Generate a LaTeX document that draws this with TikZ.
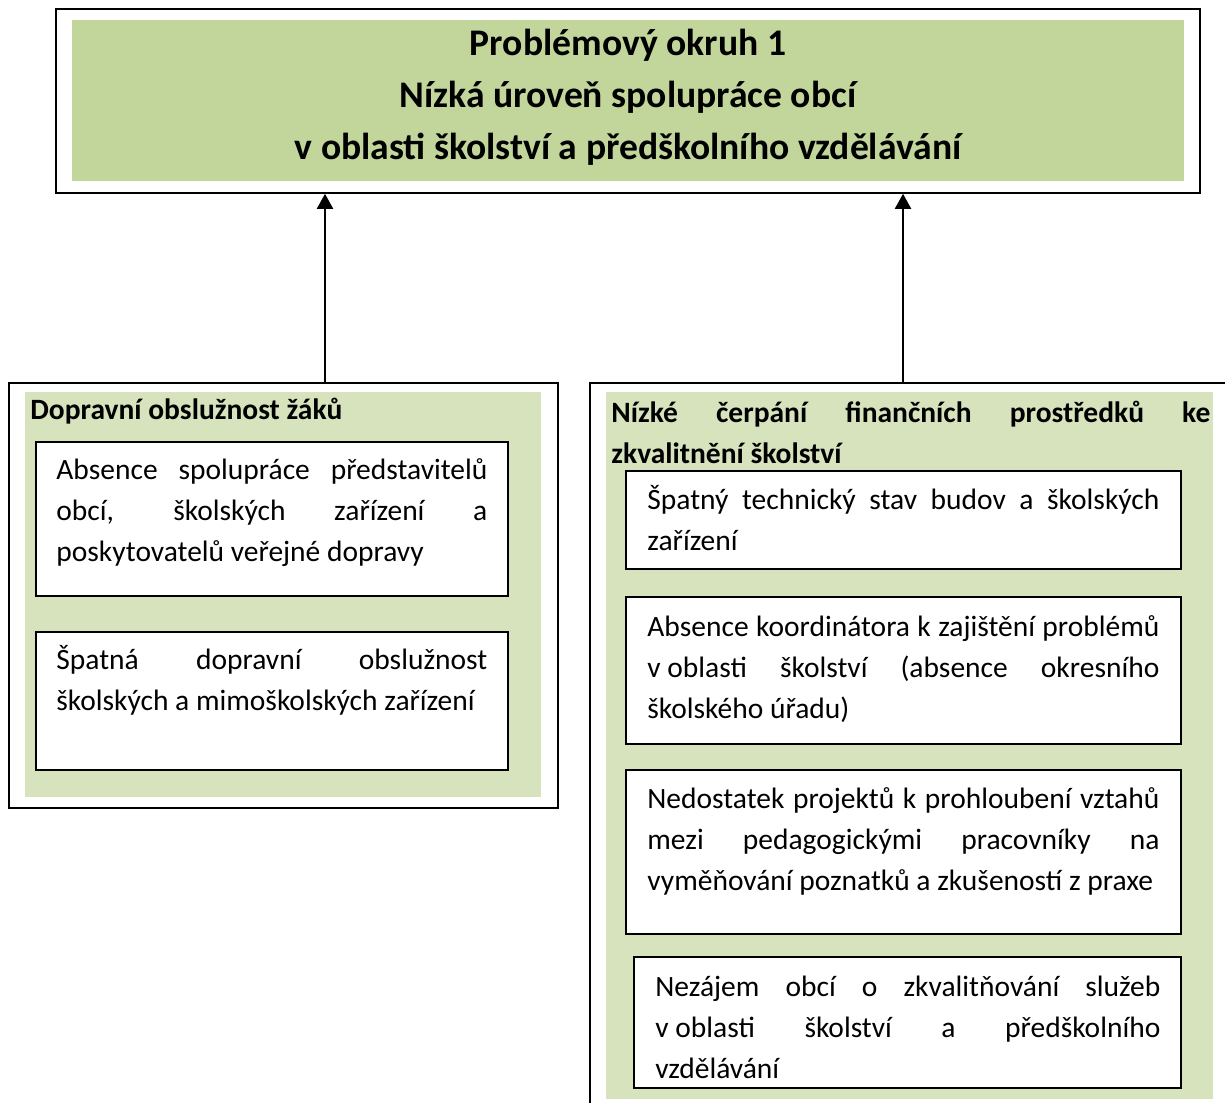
\documentclass[tikz,border=0pt]{standalone}
\usepackage{fontspec}
\setmainfont{Carlito}
\usetikzlibrary{arrows.meta}
\definecolor{titlegreen}{HTML}{C2D69B}
\definecolor{panelgreen}{HTML}{D6E3BC}
\newcommand\fillline[2]{\makebox[#1][s]{#2}}

\begin{document}
\begin{tikzpicture}[x=0.5pt,y=-0.5pt,
  frame/.style={draw,line width=0.9pt,inner sep=0pt,anchor=north west},
  panel/.style={fill=panelgreen,inner sep=0pt,anchor=north west},
  cause/.style={frame,fill=white},
  txt/.style={inner sep=0pt,anchor=north west,align=left,font=\fontsize{14.75}{20.5}\selectfont},
  head/.style={txt,font=\bfseries\fontsize{14.75}{20.5}\selectfont},
  arr/.style={line width=1pt,-{Triangle[width=8pt,length=7.5pt]}}]
\useasboundingbox (0,0) rectangle (1225,1102);
\clip (0,0) rectangle (1225,1102);

% problem area
\node[frame,minimum width=572pt,minimum height=92pt] (top) at (55,8) {};
\node[panel,fill=titlegreen,minimum width=556pt,minimum height=80.5pt] (topbg) at (72,20) {};
\node[inner sep=0pt,anchor=north,align=center,font=\bfseries\fontsize{18.8}{26}\selectfont] (title) at (628,18.6)
  {\strut Problémový okruh 1\\Nízká úroveň spolupráce obcí\\v oblasti školství a předškolního vzdělávání};

% left branch
\node[frame,minimum width=274.5pt,minimum height=212.5pt] (left) at (8,382) {};
\node[panel,minimum width=258pt,minimum height=202.5pt] (leftbg) at (25,392) {};
\node[head] (lefthead) at (30,390.3) {\strut Dopravní obslužnost žáků};
\node[cause,minimum width=236pt,minimum height=77pt] (c1) at (35,441) {};
\node[txt] (c1t) at (56,450.3)
  {\strut\fillline{215.5pt}{Absence spolupráce představitelů}\\
   \fillline{215.5pt}{obcí, školských zařízení a}\\
   poskytovatelů veřejné dopravy};
\node[cause,minimum width=236pt,minimum height=69pt] (c2) at (35,631) {};
\node[txt] (c2t) at (56,640.3)
  {\strut\fillline{215.5pt}{Špatná dopravní obslužnost}\\
   školských a mimoškolských zařízení};

% right branch
\node[frame,minimum width=325.5pt,minimum height=369pt] (right) at (589,382) {};
\node[panel,minimum width=303.5pt,minimum height=353.5pt] (rightbg) at (606,392) {};
\node[head] (righthead) at (611,393.3)
  {\strut\fillline{299.5pt}{Nízké čerpání finančních prostředků ke}\\
   zkvalitnění školství};
\node[cause,minimum width=277.5pt,minimum height=49pt] (c3) at (625,470) {};
\node[txt] (c3t) at (647,480.3)
  {\strut\fillline{256pt}{Špatný technický stav budov a školských}\\
   zařízení};
\node[cause,minimum width=277.5pt,minimum height=73.5pt] (c4) at (625,596) {};
\node[txt] (c4t) at (647,607.3)
  {\strut\fillline{256pt}{Absence koordinátora k zajištění problémů}\\
   \fillline{256pt}{\mbox{v oblasti} školství (absence okresního}\\
   školského úřadu)};
\node[cause,minimum width=277.5pt,minimum height=82pt] (c5) at (625,769) {};
\node[txt] (c5t) at (647,779.3)
  {\strut\fillline{256pt}{Nedostatek projektů k prohloubení vztahů}\\
   \fillline{256pt}{mezi pedagogickými pracovníky na}\\
   vyměňování poznatků a zkušeností z praxe};
\node[cause,minimum width=273.5pt,minimum height=65.5pt] (c6) at (633,956) {};
\node[txt] (c6t) at (655,967.3)
  {\strut\fillline{252.5pt}{Nezájem obcí o zkvalitňování služeb}\\
   \fillline{252.5pt}{\mbox{v oblasti} školství a předškolního}\\
   vzdělávání};

\coordinate (a1) at (325,0);
\coordinate (a2) at (903,0);
\draw[arr] (a1 |- left.north) -- (a1 |- top.south);
\draw[arr] (a2 |- right.north) -- (a2 |- top.south);
\end{tikzpicture}
\end{document}
